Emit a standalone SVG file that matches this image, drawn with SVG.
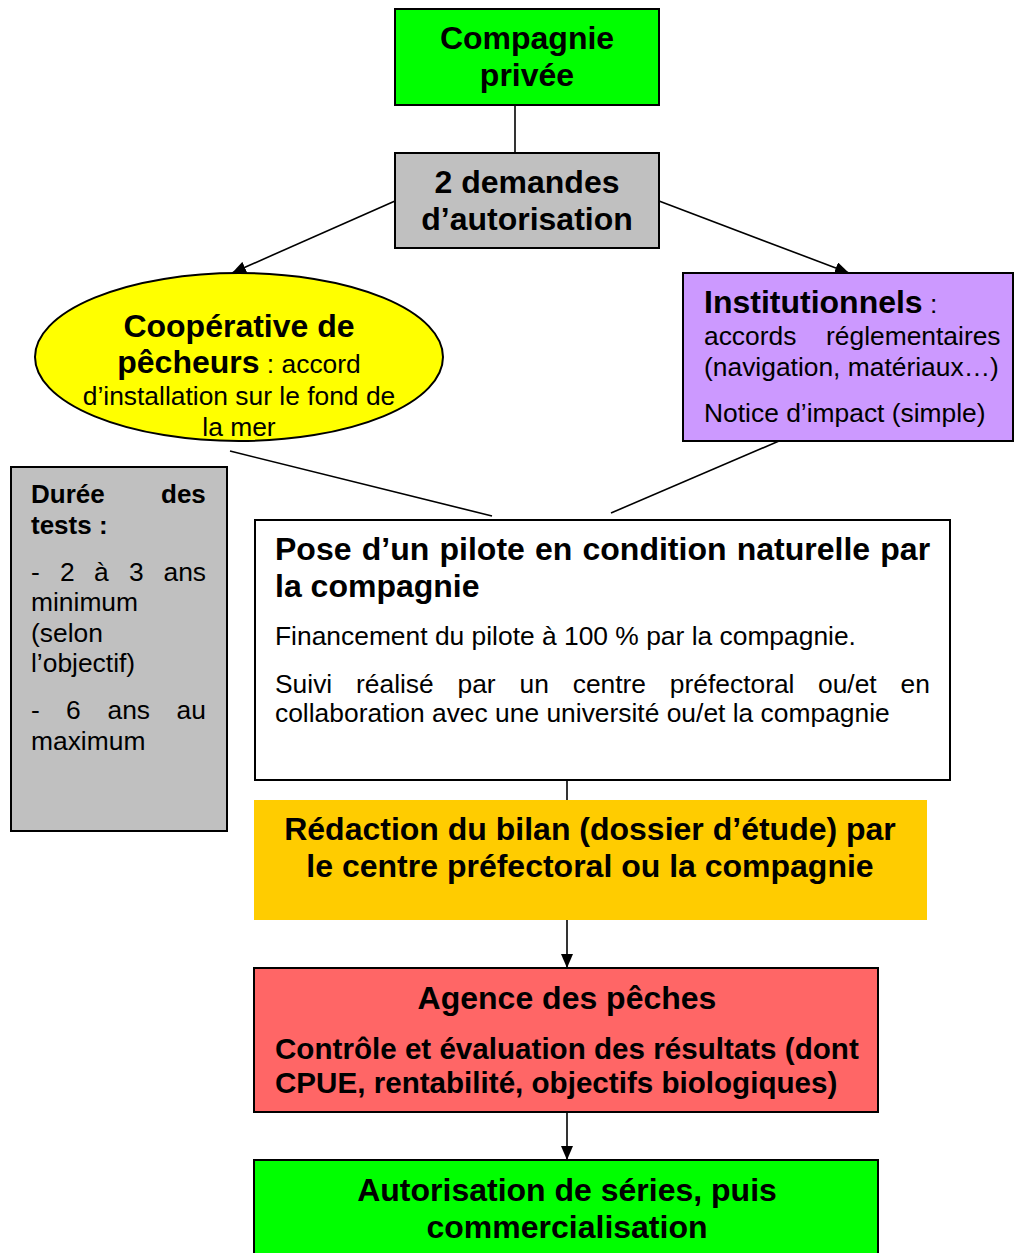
<svg xmlns="http://www.w3.org/2000/svg" width="1014" height="1253" viewBox="0 0 1014 1253">
<style>
text{font-family:"Liberation Sans",Arial,sans-serif;fill:#000}
.t{font-size:32px;font-weight:bold}
.b26{font-size:26px;font-weight:bold}
.r{font-size:26.4px}
.s{font-size:29.6px;font-weight:bold}
.c{text-anchor:middle}
.box{stroke:#000;stroke-width:2}
.ln{stroke:#000;stroke-width:1.6;fill:none}
</style>
<defs>
<marker id="ah" markerUnits="userSpaceOnUse" markerWidth="14" markerHeight="12" viewBox="0 0 14 12" refX="14" refY="6" orient="auto">
<path d="M0,0 L14,6 L0,12 z" fill="#000"/>
</marker>
</defs>
<rect width="1014" height="1253" fill="#fff"/>
<g id="connectors">
<line class="ln" x1="515" y1="105" x2="515" y2="153"/>
<line class="ln" x1="395" y1="201" x2="232" y2="273" marker-end="url(#ah)"/>
<line class="ln" x1="659" y1="201" x2="849" y2="273" marker-end="url(#ah)"/>
<line class="ln" x1="230" y1="451" x2="492" y2="516"/>
<line class="ln" x1="779" y1="441" x2="611" y2="513"/>
<line class="ln" x1="567" y1="780" x2="567" y2="800"/>
<line class="ln" x1="567" y1="920" x2="567" y2="968" marker-end="url(#ah)"/>
<line class="ln" x1="567" y1="1112" x2="567" y2="1160" marker-end="url(#ah)"/>
</g>
<g id="compagnie">
<rect class="box" x="395" y="9" width="264" height="96" fill="#00ff00"/>
<text class="t c" x="527" y="49">Compagnie</text>
<text class="t c" x="527" y="86">privée</text>
</g>
<g id="demandes">
<rect class="box" x="395" y="153" width="264" height="95" fill="#c0c0c0"/>
<text class="t c" x="527" y="193">2 demandes</text>
<text class="t c" x="527" y="230">d’autorisation</text>
</g>
<g id="cooperative">
<ellipse class="box" cx="239" cy="357" rx="204" ry="84" fill="#ffff00"/>
<text class="t c" x="239" y="337">Coopérative de</text>
<text class="c" x="239" y="373"><tspan class="t">pêcheurs</tspan><tspan class="r"> : accord</tspan></text>
<text class="r c" x="239" y="405">d’installation sur le fond de</text>
<text class="r c" x="239" y="436">la mer</text>
</g>
<g id="institutionnels">
<rect class="box" x="683" y="273" width="330" height="168" fill="#cc99ff"/>
<text x="704" y="313"><tspan class="t">Institutionnels</tspan><tspan class="r"> :</tspan></text>
<text class="r" y="345"><tspan x="704">accords</tspan><tspan x="826">réglementaires</tspan></text>
<text class="r" x="704" y="376">(navigation, matériaux…)</text>
<text class="r" x="704" y="422">Notice d’impact (simple)</text>
</g>
<g id="duree">
<rect class="box" x="11" y="467" width="216" height="364" fill="#c0c0c0"/>
<text class="b26" y="503"><tspan x="31">Durée</tspan><tspan x="161">des</tspan></text>
<text class="b26" x="31" y="534">tests :</text>
<text class="r" y="581"><tspan x="31">-</tspan><tspan x="60">2</tspan><tspan x="94">à</tspan><tspan x="129">3</tspan><tspan x="163.5">ans</tspan></text>
<text class="r" x="31" y="611">minimum</text>
<text class="r" x="31" y="642">(selon</text>
<text class="r" x="31" y="672">l’objectif)</text>
<text class="r" y="719"><tspan x="31">-</tspan><tspan x="66">6</tspan><tspan x="107.5">ans</tspan><tspan x="176.5">au</tspan></text>
<text class="r" x="31" y="750">maximum</text>
</g>
<g id="pose">
<rect class="box" x="255" y="520" width="695" height="260" fill="#fff"/>
<text class="t" y="560"><tspan x="275">Pose</tspan><tspan x="361.7">d’un</tspan><tspan x="439.5">pilote</tspan><tspan x="535">en</tspan><tspan x="582.5">condition</tspan><tspan x="736.7">naturelle</tspan><tspan x="880.3">par</tspan></text>
<text class="t" x="275" y="597">la compagnie</text>
<text class="r" x="275" y="645">Financement du pilote à 100 % par la compagnie.</text>
<text class="r" y="693"><tspan x="275">Suivi</tspan><tspan x="356">réalisé</tspan><tspan x="457.5">par</tspan><tspan x="519.5">un</tspan><tspan x="572.7">centre</tspan><tspan x="669.8">préfectoral</tspan><tspan x="818">ou/et</tspan><tspan x="900.5">en</tspan></text>
<text class="r" x="275" y="722">collaboration avec une université ou/et la compagnie</text>
</g>
<g id="redaction">
<rect x="254" y="800" width="673" height="120" fill="#ffcc00"/>
<text class="t c" x="590" y="840">Rédaction du bilan (dossier d’étude) par</text>
<text class="t c" x="590" y="877">le centre préfectoral ou la compagnie</text>
</g>
<g id="agence">
<rect class="box" x="254" y="968" width="624" height="144" fill="#ff6666"/>
<text class="t c" x="567" y="1009">Agence des pêches</text>
<text class="s" x="275" y="1059">Contrôle et évaluation des résultats (dont</text>
<text class="s" x="275" y="1093">CPUE, rentabilité, objectifs biologiques)</text>
</g>
<g id="autorisation">
<rect class="box" x="254" y="1160" width="624" height="100" fill="#00ff00"/>
<text class="t c" x="567" y="1201">Autorisation de séries, puis</text>
<text class="t c" x="567" y="1238">commercialisation</text>
</g>
</svg>
